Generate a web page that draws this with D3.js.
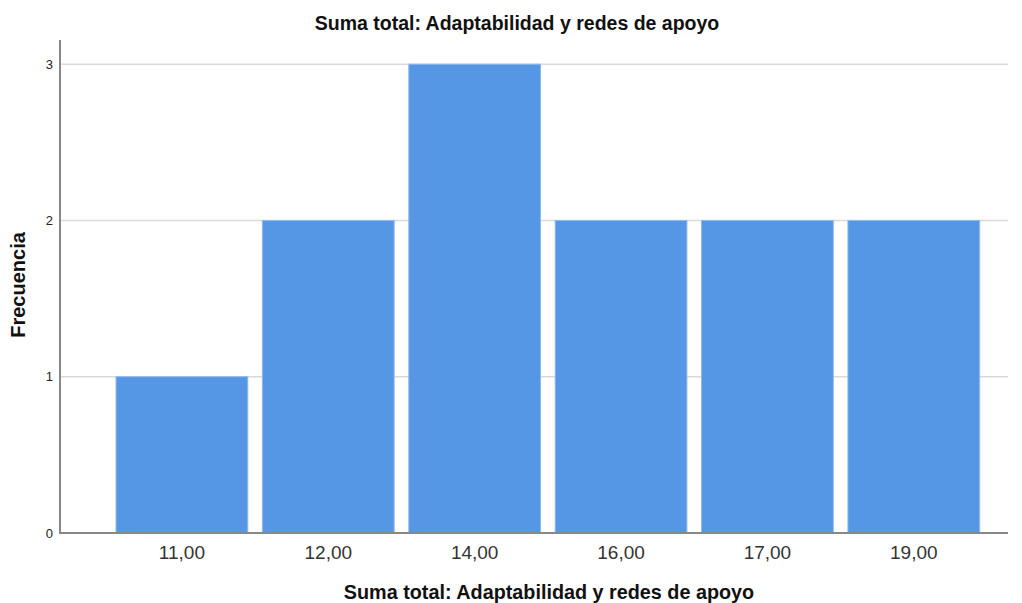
<!DOCTYPE html>
<meta charset="utf-8">
<style>
body { margin: 0; background: #fff; }
text { font-family: Arial, "Liberation Sans", sans-serif; }
.grid line { stroke: #d9d9d9; stroke-width: 1.5px; }
.bar { fill: #5596e5; stroke: #8fb8ee; stroke-width: 1px; }
.axis-line { stroke: #888; stroke-width: 2px; }
</style>
<svg width="1022" height="603"></svg>
<script src="https://d3js.org/d3.v7.min.js"></script>
<script>

var categories = ["11,00", "12,00", "14,00", "16,00", "17,00", "19,00"];
var counts = [1, 2, 3, 2, 2, 2];
var yTicks = [0, 1, 2, 3];

var svg = d3.select("svg");

var plotLeft = 60, plotRight = 1008, plotTop = 40, plotBottom = 533;

var x = d3.scaleBand()
    .domain(categories)
    .range([108.7, 987])
    .paddingInner(0.1)
    .paddingOuter(0.05);

var y = d3.scaleLinear()
    .domain([0, 3.155])
    .range([plotBottom, plotTop]);

// gridlines
svg.append("g").attr("class", "grid")
  .selectAll("line")
  .data(yTicks.slice(1))
  .enter().append("line")
    .attr("x1", plotLeft).attr("x2", plotRight)
    .attr("y1", function(d) { return y(d); })
    .attr("y2", function(d) { return y(d); });

svg.selectAll(".bar")
  .data(counts)
  .enter().append("rect")
    .attr("class", "bar")
    .attr("x", function(d, i) { return x(categories[i]); })
    .attr("width", x.bandwidth())
    .attr("y", function(d) { return y(d); })
    .attr("height", function(d) { return y(0) - y(d); });

// axes lines
svg.append("line").attr("class", "axis-line")
  .attr("x1", plotLeft).attr("x2", plotLeft).attr("y1", plotTop).attr("y2", plotBottom + 1);
svg.append("line").attr("class", "axis-line")
  .attr("x1", plotLeft - 1).attr("x2", plotRight).attr("y1", plotBottom).attr("y2", plotBottom);

// y tick labels
svg.selectAll(".ytick")
  .data(yTicks)
  .enter().append("text")
    .attr("x", 53)
    .attr("y", function(d) { return y(d); })
    .attr("dy", "0.35em")
    .attr("text-anchor", "end")
    .style("font-size", "13px")
    .style("fill", "#222")
    .text(function(d) { return d; });

// x tick labels
svg.selectAll(".xtick")
  .data(categories)
  .enter().append("text")
    .attr("x", function(d) { return x(d) + x.bandwidth() / 2; })
    .attr("y", 559)
    .attr("text-anchor", "middle")
    .style("font-size", "19px")
    .style("fill", "#333")
    .text(function(d) { return d; });

svg.append("text")
  .attr("x", 517).attr("y", 30)
  .attr("text-anchor", "middle")
  .style("font-size", "19.5px").style("font-weight", "bold").style("fill", "#111")
  .text("Suma total: Adaptabilidad y redes de apoyo");

svg.append("text")
  .attr("x", 549).attr("y", 599)
  .attr("text-anchor", "middle")
  .style("font-size", "19.8px").style("font-weight", "bold").style("fill", "#111")
  .text("Suma total: Adaptabilidad y redes de apoyo");

svg.append("text")
  .attr("transform", "translate(25,285) rotate(-90)")
  .attr("text-anchor", "middle")
  .style("font-size", "20px").style("font-weight", "bold").style("fill", "#111")
  .text("Frecuencia");

</script>
